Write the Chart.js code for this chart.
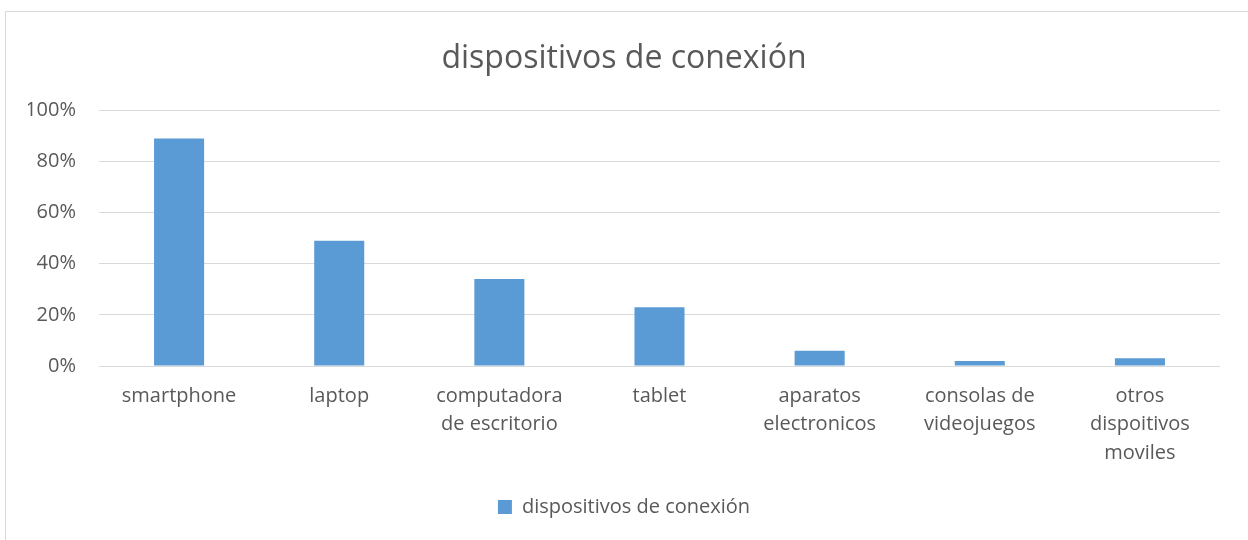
<!DOCTYPE html>
<html>
<head>
<meta charset="utf-8">
<script src="https://cdn.jsdelivr.net/npm/chart.js@4/dist/chart.umd.min.js"></script>
<style>
  html, body { margin: 0; padding: 0; background: #ffffff; }
  #wrap { position: relative; width: 1248px; height: 540px; overflow: hidden; }
  #frame { position: absolute; left: 5px; top: 11px; width: 1400px; height: 700px; border: 1px solid #D9D9D9; box-sizing: border-box; }
  #c { position: absolute; left: 0; top: 0; }
</style>
</head>
<body>
<div id="wrap">
  <div id="frame"></div>
  <canvas id="c" width="1248" height="540"></canvas>
</div>
<script>
const categories = [
  ["smartphone"],
  ["laptop"],
  ["computadora", "de escritorio"],
  ["tablet"],
  ["aparatos", "electronicos"],
  ["consolas de", "videojuegos"],
  ["otros", "dispoitivos", "moviles"]
];
const seriesName = "dispositivos de conexión";
const values = [89, 49, 34, 23, 6, 2, 3];
const yTicks = [0, 20, 40, 60, 80, 100];
const chartTitle = "dispositivos de conexión";

const TEXT = "#595959";
const FONT = "'Open Sans', sans-serif";

new Chart(document.getElementById("c"), {
  type: "bar",
  data: {
    labels: categories,
    datasets: [{
      label: seriesName,
      data: values,
      backgroundColor: "#5B9BD5",
      borderWidth: 0,
      barPercentage: 0.3125,
      categoryPercentage: 1.0
    }]
  },
  options: {
    responsive: false,
    animation: false,
    devicePixelRatio: 1,
    layout: { padding: { left: 28, right: 28, top: 0, bottom: 13 } },
    plugins: {
      title: {
        display: true,
        text: chartTitle,
        color: TEXT,
        font: { family: FONT, size: 32, weight: "normal", lineHeight: 1.2 },
        padding: { top: 40, bottom: 32 }
      },
      legend: {
        display: true,
        position: "bottom",
        labels: {
          color: TEXT,
          font: { family: FONT, size: 20 },
          boxWidth: 14,
          boxHeight: 14,
          padding: 10
        }
      },
      tooltip: { enabled: false }
    },
    scales: {
      y: {
        min: 0,
        max: 100,
        afterBuildTicks: (scale) => { scale.ticks = yTicks.map(v => ({ value: v })); },
        afterFit: (scale) => { scale.width = 71; },
        ticks: {
          color: TEXT,
          font: { family: FONT, size: 20 },
          padding: 23,
          callback: (v) => v + "%"
        },
        grid: { color: "#D9D9D9", lineWidth: 1, drawTicks: false },
        border: { display: false }
      },
      x: {
        afterFit: (scale) => { scale.height = 121; },
        ticks: {
          color: TEXT,
          font: { family: FONT, size: 20, lineHeight: 1.42 },
          padding: 16,
          maxRotation: 0,
          autoSkip: false
        },
        grid: { display: false, drawTicks: false },
        border: { display: false }
      }
    }
  }
});
</script>
</body>
</html>
